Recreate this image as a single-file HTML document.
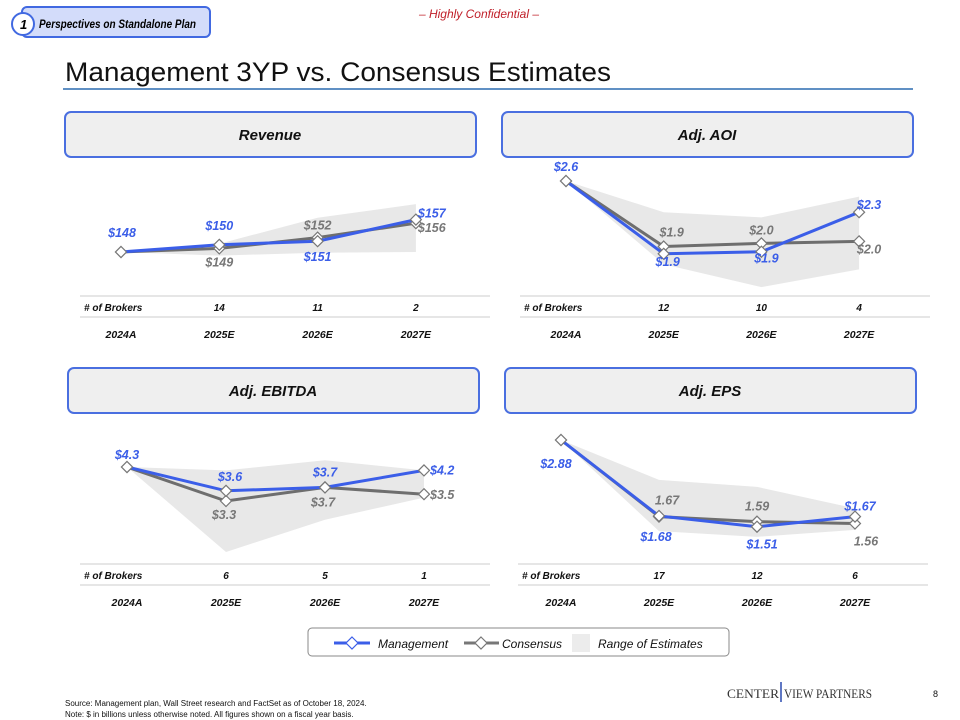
<!DOCTYPE html>
<html><head><meta charset="utf-8">
<style>
body{margin:0;background:#fff;}
svg{display:block;font-family:"Liberation Sans",sans-serif;}
</style></head>
<body>
<svg id="s" width="960" height="720" viewBox="0 0 960 720">
  <g>
    <rect x="22" y="7" width="188" height="30" rx="5" fill="#d3dcfa" stroke="#4169e1" stroke-width="2"/>
    <circle cx="23" cy="24" r="11" fill="#fff" stroke="#4169e1" stroke-width="2"/>
    <text x="20" y="29" font-size="13" font-weight="bold" font-style="italic" fill="#000">1</text>
    <text x="39" y="28" font-size="11.5" font-weight="bold" font-style="italic" fill="#000" textLength="157" lengthAdjust="spacingAndGlyphs">Perspectives on Standalone Plan</text>
  </g>
  <text x="479" y="18" font-size="12" font-style="italic" fill="#c0202a" text-anchor="middle">– Highly Confidential –</text>
  <text x="65" y="81" font-size="27" fill="#111" textLength="546" lengthAdjust="spacingAndGlyphs">Management 3YP vs. Consensus Estimates</text>
  <line x1="63" y1="89" x2="913" y2="89" stroke="#2b6cb0" stroke-width="1.5"/>

  <g id="panels"></g>

  <g>
    <rect x="308" y="628" width="421" height="28" rx="4" fill="#fff" stroke="#888" stroke-width="1"/>
    <g>
      <line x1="334" y1="643" x2="370" y2="643" stroke="#3b5ee8" stroke-width="3"/>
      <path d="M352 637 L358 643 L352 649 L346 643Z" fill="#fff" stroke="#3b5ee8" stroke-width="1.2"/>
      <text x="378" y="648" font-size="12" font-style="italic" fill="#111">Management</text>
    </g>
    <g>
      <line x1="464" y1="643" x2="499" y2="643" stroke="#777" stroke-width="3"/>
      <path d="M481 637 L487 643 L481 649 L475 643Z" fill="#fff" stroke="#777" stroke-width="1.2"/>
      <text x="502" y="648" font-size="12" font-style="italic" fill="#111">Consensus</text>
    </g>
    <g>
      <rect x="572" y="634" width="18" height="18" fill="#ececec"/>
      <text x="598" y="648" font-size="12" font-style="italic" fill="#111">Range of Estimates</text>
    </g>
  </g>

  <text x="65" y="706" font-size="8" fill="#111">Source:    Management plan, Wall Street research and FactSet as of October 18, 2024.</text>
  <text x="65" y="717" font-size="8" fill="#111">Note:       $ in billions unless otherwise noted. All figures shown on a fiscal year basis.</text>
  <g>
    <text x="727" y="698" font-size="13" fill="#333" font-family="Liberation Serif, serif" textLength="52" lengthAdjust="spacingAndGlyphs">CENTER</text>
    <line x1="781" y1="682" x2="781" y2="702" stroke="#2b4ab0" stroke-width="1.5"/>
    <text x="784" y="698" font-size="13" fill="#333" font-family="Liberation Serif, serif" textLength="88" lengthAdjust="spacingAndGlyphs">VIEW PARTNERS</text>
  </g>
  <text x="933" y="697" font-size="9" fill="#111">8</text>
</svg>
<script>
const years = ["2024A","2025E","2026E","2027E"];

const revMgmt = [148,150,151,157];
const revCons = [148,149,152,156];
const revLow = [148,147,147.8,148];
const revHigh = [148,150.3,157.5,161.3];
const revBrokers = ["14","11","2"];
const revMgmtLbl = ["$148","$150","$151","$157"];
const revConsLbl = ["","$149","$152","$156"];

const aoiMgmt = [2.6,1.9,1.92,2.3];
const aoiCons = [2.6,1.97,2.0,2.02];
const aoiLow = [2.6,1.8,1.58,1.75];
const aoiHigh = [2.6,2.3,2.25,2.45];
const aoiBrokers = ["12","10","4"];
const aoiMgmtLbl = ["$2.6","$1.9","$1.9","$2.3"];
const aoiConsLbl = ["","$1.9","$2.0","$2.0"];

const ebMgmt = [4.3,3.6,3.7,4.2];
const ebCons = [4.3,3.3,3.7,3.5];
const ebLow = [4.3,1.8,2.75,3.4];
const ebHigh = [4.3,4.2,4.5,4.2];
const ebBrokers = ["6","5","1"];
const ebMgmtLbl = ["$4.3","$3.6","$3.7","$4.2"];
const ebConsLbl = ["","$3.3","$3.7","$3.5"];

const epsMgmt = [2.88,1.68,1.51,1.67];
const epsCons = [2.88,1.67,1.59,1.56];
const epsLow = [2.88,1.44,1.35,1.46];
const epsHigh = [2.88,2.25,2.14,1.80];
const epsBrokers = ["17","12","6"];
const epsMgmtLbl = ["$2.88","$1.68","$1.51","$1.67"];
const epsConsLbl = ["","1.67","1.59","1.56"];

const NS="http://www.w3.org/2000/svg";
const root=document.getElementById('panels');
function mk(tag,attrs,parent){const e=document.createElementNS(NS,tag);for(const k in attrs)e.setAttribute(k,attrs[k]);(parent||root).appendChild(e);return e;}

function panel(cfg){
  const g=mk('g',{});
  
  
  const hb=mk('g',{},g);
  
  
  mk('rect',{x:cfg.bx,y:cfg.by,width:411,height:45,rx:6,fill:'#efefef',stroke:'#4a6fe0','stroke-width':2},hb);
  const t=mk('text',{x:cfg.bx+205,y:cfg.by+28,'font-size':15,'font-weight':'bold','font-style':'italic','text-anchor':'middle',fill:'#111'},hb);
  t.textContent=cfg.title;
  const xs=i=>cfg.x0+i*cfg.dx;
  const ys=v=>cfg.yRef-(v-cfg.vRef)*cfg.k;
  let pts=[];
  cfg.high.forEach((v,i)=>pts.push(xs(i)+','+ys(v)));
  for(let i=cfg.low.length-1;i>=0;i--)pts.push(xs(i)+','+ys(cfg.low[i]));
  const rg=mk('polygon',{points:pts.join(' '),fill:'#e8e8e8'},g);
  
  
  function series(vals,col,nm){
    const pl=mk('polyline',{points:vals.map((v,i)=>xs(i)+','+ys(v)).join(' '),fill:'none',stroke:col,'stroke-width':3},g);
    
    
    vals.forEach((v,i)=>{const x=xs(i),y=ys(v);
      const d=mk('path',{d:`M${x} ${y-5.5} L${x+5.5} ${y} L${x} ${y+5.5} L${x-5.5} ${y}Z`,fill:'#fff',stroke:'#777','stroke-width':1.2},g);
      
      
    });
  }
  series(cfg.cons,'#6e6e6e','consensus');
  series(cfg.mgmt,'#3b5ee8','management');
  function labels(lbls,vals,offs,col,nm){
    lbls.forEach((l,i)=>{ if(!l)return;
      const o=offs[i];
      const tx=mk('text',{x:xs(i)+o[0],y:ys(vals[i])+o[1],'font-size':12.5,'font-weight':'bold','font-style':'italic','text-anchor':o[2]||'middle',fill:col},g);
      tx.textContent=l;
      
      
    });
  }
  labels(cfg.mLbl,cfg.mgmt,cfg.mOff,'#3b5ee8','management');
  labels(cfg.cLbl,cfg.cons,cfg.cOff,'#777','consensus');
  mk('line',{x1:cfg.tx,y1:cfg.ty,x2:cfg.tx+410,y2:cfg.ty,stroke:'#ccc','stroke-width':1},g);
  mk('line',{x1:cfg.tx,y1:cfg.ty+21,x2:cfg.tx+410,y2:cfg.ty+21,stroke:'#ccc','stroke-width':1},g);
  const bl=mk('text',{x:cfg.tx+4,y:cfg.ty+15,'font-size':10,'font-weight':'bold','font-style':'italic',fill:'#111'},g);
  bl.textContent='# of Brokers';
  cfg.brokers.forEach((b,i)=>{const tt=mk('text',{x:xs(i+1),y:cfg.ty+15,'font-size':10,'font-weight':'bold','font-style':'italic','text-anchor':'middle',fill:'#111'},g);
    tt.textContent=b;
    
    });
  years.forEach((yv,i)=>{const tt=mk('text',{x:xs(i),y:cfg.ty+42,'font-size':10.5,'font-weight':'bold','font-style':'italic','text-anchor':'middle',fill:'#111'},g);
    tt.textContent=yv;
    
    });
}

panel({name:'revenue',title:'Revenue',bx:65,by:112,x0:121,dx:98.3,yRef:252,vRef:148,k:3.6,
  mgmt:revMgmt,cons:revCons,low:revLow,high:revHigh,brokers:revBrokers,mLbl:revMgmtLbl,cLbl:revConsLbl,
  mOff:[[1,-15],[0,-15],[0,20],[2,-2,'start']],cOff:[[0,0],[0,18],[0,-8],[2,9,'start']],tx:80,ty:296});
panel({name:'adj-aoi',title:'Adj. AOI',bx:502,by:112,x0:566,dx:97.7,yRef:181,vRef:2.6,k:104,
  mgmt:aoiMgmt,cons:aoiCons,low:aoiLow,high:aoiHigh,brokers:aoiBrokers,mLbl:aoiMgmtLbl,cLbl:aoiConsLbl,
  mOff:[[0,-10],[4,12],[5,11],[10,-3]],cOff:[[0,0],[8,-10],[0,-9],[10,12]],tx:520,ty:296});
panel({name:'adj-ebitda',title:'Adj. EBITDA',bx:68,by:368,x0:127,dx:99,yRef:467,vRef:4.3,k:34,
  mgmt:ebMgmt,cons:ebCons,low:ebLow,high:ebHigh,brokers:ebBrokers,mLbl:ebMgmtLbl,cLbl:ebConsLbl,
  mOff:[[0,-8],[4,-10],[0,-11],[6,4,'start']],cOff:[[0,0],[-2,18],[-2,19],[6,5,'start']],tx:80,ty:564});
panel({name:'adj-eps',title:'Adj. EPS',bx:505,by:368,x0:561,dx:98,yRef:440,vRef:2.88,k:63.3,
  mgmt:epsMgmt,cons:epsCons,low:epsLow,high:epsHigh,brokers:epsBrokers,mLbl:epsMgmtLbl,cLbl:epsConsLbl,
  mOff:[[-5,28],[-3,25],[5,22],[5,-6]],cOff:[[0,0],[8,-12],[0,-11],[11,22]],tx:518,ty:564});
</script>
</body></html>
